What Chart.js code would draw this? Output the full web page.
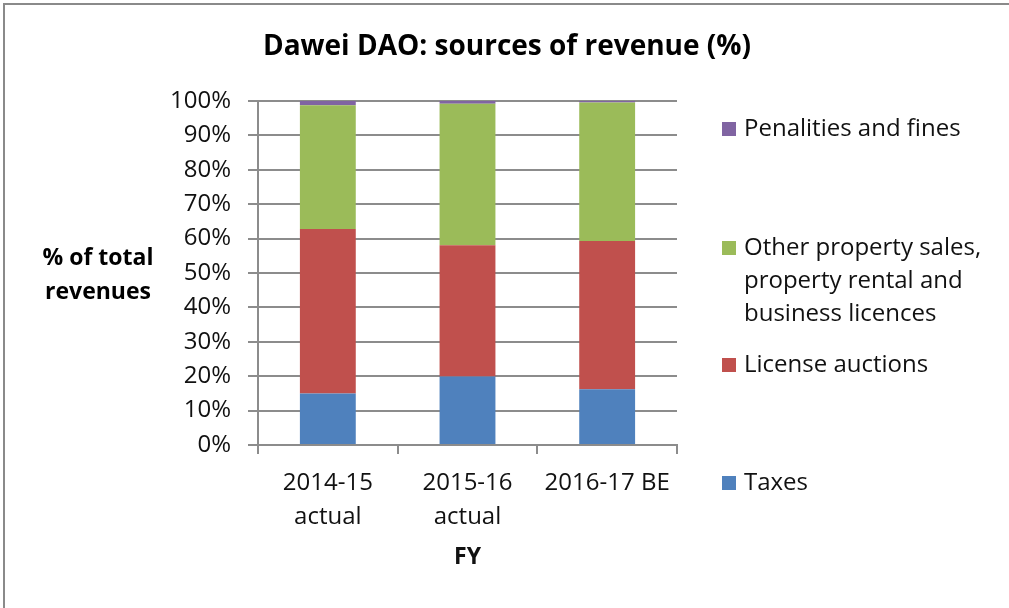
<!DOCTYPE html>
<html lang="en">
<head>
<meta charset="UTF-8">
<title>Dawei DAO: sources of revenue (%)</title>
<script src="https://cdn.jsdelivr.net/npm/chart.js"></script>
<style>
    html, body { margin: 0; padding: 0; background: #fff; overflow: hidden; }
    canvas { display: block; }
</style>
</head>
<body>
<canvas id="chart" width="1009" height="608"></canvas>
<script>
// values (% of total revenues)
const years = [['2014-15', 'actual'], ['2015-16', 'actual'], '2016-17 BE'];
const taxes = [15.0, 19.9, 16.2];
const licenseAuctions = [47.8, 38.2, 43.1];
const otherProperty = [36.0, 41.1, 40.3];
const penalties = [1.2, 0.8, 0.4];

const FONT = "'Open Sans', sans-serif";
const GRID = '#8c8c8c';

// legend rows drawn top to bottom, like the Excel original
const legendRows = [
    { ds: 3, y: 129 },
    { ds: 2, y: 248 },
    { ds: 1, y: 365 },
    { ds: 0, y: 483 }
];

const decorPlugin = {
    id: 'decor',
    beforeDraw(chart) {
        const ctx = chart.ctx;
        ctx.save();
        ctx.fillStyle = '#fff';
        ctx.fillRect(0, 0, chart.width, chart.height);
        // the chart's frame shows only on top and left
        ctx.fillStyle = '#8a8a8a';
        ctx.fillRect(3, 3, chart.width - 3, 2);
        ctx.fillRect(3, 3, 2, chart.height - 3);
        ctx.restore();
    },
    afterDraw(chart) {
        const ctx = chart.ctx;
        ctx.save();
        ctx.fillStyle = '#000';
        ctx.textBaseline = 'middle';

        // main title
        ctx.font = 'bold 28px ' + FONT;
        ctx.textAlign = 'center';
        ctx.fillText('Dawei DAO: sources of revenue (%)', 507, 47);

        // horizontal y axis title
        ctx.font = 'bold 23px ' + FONT;
        ctx.fillText('% of total', 98, 258);
        ctx.fillText('revenues', 98, 292);

        // legend
        ctx.font = '24px ' + FONT;
        ctx.textAlign = 'left';
        legendRows.forEach(row => {
            const ds = chart.data.datasets[row.ds];
            ctx.fillStyle = ds.backgroundColor;
            ctx.fillRect(722, row.y - 7, 14, 14);
            ctx.fillStyle = '#111';
            ds.legendLines.forEach((line, i) => ctx.fillText(line, 744, row.y + i * 33));
        });
        ctx.restore();
    }
};

new Chart(document.getElementById('chart'), {
    type: 'bar',
    data: {
        labels: years,
        datasets: [
            { label: 'Taxes', legendLines: ['Taxes'], data: taxes, backgroundColor: '#4F81BD' },
            { label: 'License auctions', legendLines: ['License auctions'], data: licenseAuctions, backgroundColor: '#C0504D' },
            { label: 'Other property sales, property rental and business licences',
              legendLines: ['Other property sales,', 'property rental and', 'business licences'],
              data: otherProperty, backgroundColor: '#9BBB59' },
            { label: 'Penalities and fines', legendLines: ['Penalities and fines'], data: penalties, backgroundColor: '#8064A2' }
        ]
    },
    options: {
        responsive: false,
        animation: false,
        layout: { padding: { left: 0, right: 332, top: 101, bottom: 0 } },
        datasets: { bar: { barPercentage: 0.4, categoryPercentage: 1.0, borderWidth: 0 } },
        plugins: {
            legend: { display: false },
            title: { display: false },
            tooltip: { enabled: false }
        },
        scales: {
            x: {
                stacked: true,
                afterFit: s => { s.height = 163; },
                grid: { drawOnChartArea: false, color: GRID, lineWidth: 2, tickLength: 9, tickColor: GRID },
                border: { color: GRID, width: 2 },
                ticks: { color: '#111', padding: 12, maxRotation: 0, font: { family: FONT, size: 24, lineHeight: '34px' } },
                title: { display: true, text: 'FY', color: '#111', padding: { top: 0, bottom: 37 },
                         font: { family: FONT, size: 23, weight: 'bold' } }
            },
            y: {
                stacked: true,
                min: 0,
                max: 100,
                afterFit: s => { s.width = 258; },
                grid: { color: GRID, lineWidth: 2, tickLength: 10 },
                border: { color: GRID, width: 2 },
                ticks: { stepSize: 10, color: '#111', padding: 17, font: { family: FONT, size: 24 },
                         callback: v => v + '%' }
            }
        }
    },
    plugins: [decorPlugin]
});
</script>
</body>
</html>
